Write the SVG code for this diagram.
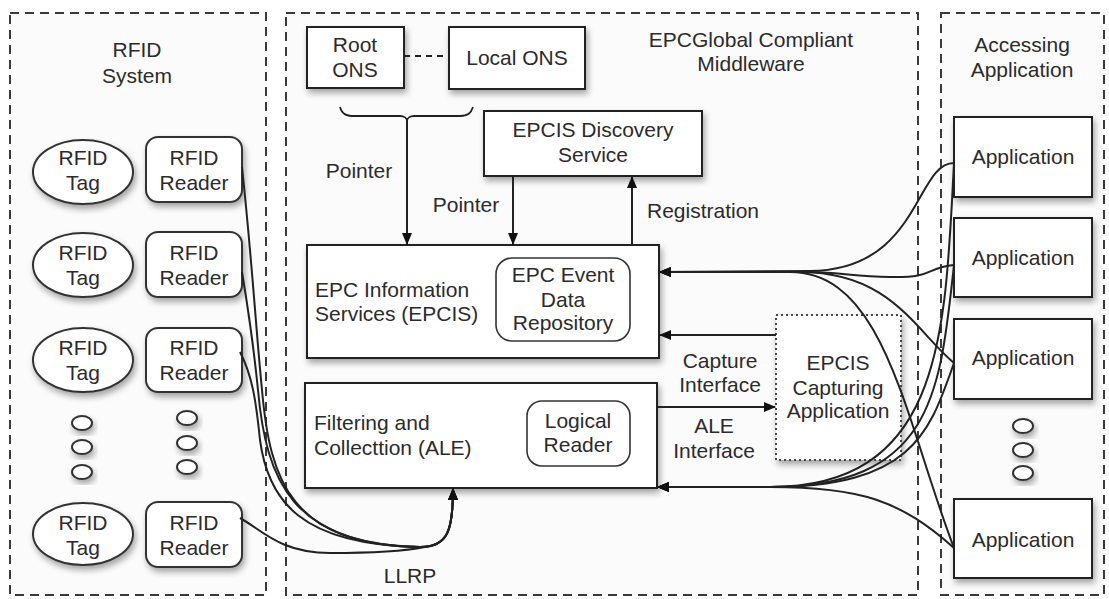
<svg xmlns="http://www.w3.org/2000/svg" width="1109" height="599" viewBox="0 0 1109 599">
<defs>
<style>
.t{font-family:"Liberation Sans",Arial,sans-serif;font-size:21px;fill:#2b2b2b;text-anchor:middle}
.l{text-anchor:start}
.c{fill:#fbfbfb;stroke:#3a3a3a;stroke-width:2;stroke-dasharray:9 6}
.b{fill:#fff;stroke:#222;stroke-width:2;filter:url(#sh)}
.i{fill:#fff;stroke:#333;stroke-width:1.6}
.e{fill:none;stroke:#222;stroke-width:1.8}
.a{fill:none;stroke:#222;stroke-width:2;marker-end:url(#ah)}
.d{fill:#fff;stroke:#333;stroke-width:2;filter:url(#sh)}
</style>
<filter id="sh" x="-20%" y="-20%" width="150%" height="160%">
<feDropShadow dx="2" dy="4" stdDeviation="3" flood-color="#000" flood-opacity="0.35"/>
</filter>
<marker id="ah" viewBox="0 0 12 10" refX="11" refY="5" markerWidth="12" markerHeight="10" markerUnits="userSpaceOnUse" orient="auto">
<path d="M0,0 L12,5 L0,10 z" fill="#111"/>
</marker>
</defs>
<rect width="1109" height="599" fill="#fff"/>

<g id="rfid-system">
<rect class="c" x="10" y="13" width="256" height="582"/>
<text class="t" x="137" y="57">RFID</text>
<text class="t" x="137" y="83">System</text>
</g>
<g id="middleware">
<rect class="c" x="286" y="13" width="632" height="582"/>
<text class="t" x="751" y="47">EPCGlobal Compliant</text>
<text class="t" x="751" y="71">Middleware</text>
</g>
<g id="accessing">
<rect class="c" x="941" y="13" width="163" height="582"/>
<text class="t" x="1022" y="52">Accessing</text>
<text class="t" x="1022" y="77">Application</text>
</g>

<g id="tag1"><ellipse class="d" cx="83" cy="172" rx="50" ry="32"/><text class="t" x="83" y="165">RFID</text><text class="t" x="83" y="190">Tag</text></g>
<g id="reader1"><rect class="d" x="146" y="137" width="96" height="65" rx="12"/><text class="t" x="194" y="165">RFID</text><text class="t" x="194" y="190">Reader</text></g>
<g id="tag2"><ellipse class="d" cx="83" cy="265" rx="50" ry="32"/><text class="t" x="83" y="260">RFID</text><text class="t" x="83" y="285">Tag</text></g>
<g id="reader2"><rect class="d" x="146" y="232" width="96" height="65" rx="12"/><text class="t" x="194" y="260">RFID</text><text class="t" x="194" y="285">Reader</text></g>
<g id="tag3"><ellipse class="d" cx="83" cy="360" rx="50" ry="32"/><text class="t" x="83" y="355">RFID</text><text class="t" x="83" y="380">Tag</text></g>
<g id="reader3"><rect class="d" x="146" y="328" width="96" height="64" rx="12"/><text class="t" x="194" y="355">RFID</text><text class="t" x="194" y="380">Reader</text></g>
<g id="tag-dots"><ellipse class="d" cx="82" cy="423" rx="10" ry="7"/><ellipse class="d" cx="82" cy="447" rx="10" ry="7"/><ellipse class="d" cx="82" cy="472" rx="10" ry="7"/></g>
<g id="reader-dots"><ellipse class="d" cx="187" cy="418" rx="10" ry="7"/><ellipse class="d" cx="187" cy="443" rx="10" ry="7"/><ellipse class="d" cx="187" cy="467" rx="10" ry="7"/></g>
<g id="tag4"><ellipse class="d" cx="83" cy="534" rx="50" ry="31"/><text class="t" x="83" y="530">RFID</text><text class="t" x="83" y="555">Tag</text></g>
<g id="reader4"><rect class="d" x="146" y="502" width="96" height="65" rx="12"/><text class="t" x="194" y="530">RFID</text><text class="t" x="194" y="555">Reader</text></g>

<g id="root-ons"><rect class="b" x="307" y="27" width="97" height="61"/><text class="t" x="355" y="52">Root</text><text class="t" x="355" y="77">ONS</text></g>
<g id="local-ons"><rect class="b" x="449" y="27" width="136" height="62"/><text class="t" x="517" y="65">Local ONS</text></g>
<g id="discovery"><rect class="b" x="484" y="111" width="218" height="65"/><text class="t" x="593" y="137">EPCIS Discovery</text><text class="t" x="593" y="162">Service</text></g>
<g id="epcis"><rect class="b" x="307" y="245" width="352" height="113"/>
<text class="t l" x="315" y="297">EPC Information</text><text class="t l" x="315" y="321">Services (EPCIS)</text>
<rect class="i" x="496" y="258" width="134" height="83" rx="16"/>
<text class="t" x="563" y="282">EPC Event</text><text class="t" x="563" y="307">Data</text><text class="t" x="563" y="330">Repository</text></g>
<g id="ale"><rect class="b" x="305" y="383" width="352" height="105"/>
<text class="t l" x="314" y="430">Filtering and</text><text class="t l" x="314" y="455">Collecttion (ALE)</text>
<rect class="i" x="527" y="401" width="103" height="65" rx="15"/>
<text class="t" x="578" y="428">Logical</text><text class="t" x="578" y="452">Reader</text></g>
<g id="capturing"><rect x="776" y="315" width="125" height="145" fill="#fff" stroke="#444" stroke-width="2" stroke-dasharray="2 3" filter="url(#sh)"/>
<text class="t" x="838" y="370">EPCIS</text><text class="t" x="838" y="395">Capturing</text><text class="t" x="838" y="418">Application</text></g>

<g id="app1"><rect class="b" x="954" y="117" width="138" height="80"/><text class="t" x="1023" y="164">Application</text></g>
<g id="app2"><rect class="b" x="954" y="218" width="138" height="79"/><text class="t" x="1023" y="265">Application</text></g>
<g id="app3"><rect class="b" x="954" y="319" width="138" height="80"/><text class="t" x="1023" y="365">Application</text></g>
<g id="app-dots"><ellipse class="d" cx="1023" cy="426" rx="10" ry="7"/><ellipse class="d" cx="1023" cy="450" rx="10" ry="7"/><ellipse class="d" cx="1023" cy="473" rx="10" ry="7"/></g>
<g id="app4"><rect class="b" x="954" y="499" width="138" height="79"/><text class="t" x="1023" y="547">Application</text></g>

<g id="connectors">
<path class="e" d="M404,56 L449,56" stroke-dasharray="6 5"/>
<path class="e" d="M340,107 C342,114 346,116 354,116 L400,116 C404,116 407,118 407,121 C407,118 410,116 414,116 L460,116 C468,116 471,113 473,107"/>
<path class="a" d="M407,120 L407,244"/>
<path class="a" d="M513,176 L513,244"/>
<path class="a" d="M632,245 L632,177"/>
<text class="t" x="359" y="178">Pointer</text>
<text class="t" x="466" y="212">Pointer</text>
<text class="t" x="703" y="218">Registration</text>

<path class="a" d="M776,335 L660,335"/>
<path class="a" d="M657,407 L775,407"/>
<text class="t" x="720" y="368">Capture</text>
<text class="t" x="720" y="392">Interface</text>
<text class="t" x="714" y="433">ALE</text>
<text class="t" x="714" y="458">Interface</text>

<path class="a" d="M954,163 C915,163 920,270 810,271 L660,272"/>
<path class="a" d="M954,265 C925,268 935,278 890,277 C850,276 840,272 800,272 L660,272"/>
<path class="a" d="M954,363 C915,330 890,272 800,272 L660,272"/>
<path class="a" d="M954,548 C905,420 885,272 790,272 L660,272"/>

<path class="a" d="M954,163 C945,330 945,487 770,487 L658,487"/>
<path class="a" d="M954,265 C940,390 935,487 770,487 L658,487"/>
<path class="a" d="M954,363 C930,430 915,487 770,487 L658,487"/>
<path class="a" d="M954,548 C900,500 860,487 770,487 L658,487"/>

<path class="a" d="M242,167 C252,260 256,330 262,390 C270,480 290,545 420,547 C448,547 453,530 453,489"/>
<path class="a" d="M242,272 C250,320 254,350 258,390 C266,480 292,545 420,547 C448,547 453,530 453,489"/>
<path class="a" d="M240,352 C252,375 256,400 260,440 C268,500 300,545 420,547 C448,547 453,530 453,489"/>
<path class="a" d="M240,518 C262,530 280,553 330,553 C380,553 410,550 425,547 C448,545 453,530 453,489"/>
<text class="t" x="410" y="583">LLRP</text>
</g>
</svg>
